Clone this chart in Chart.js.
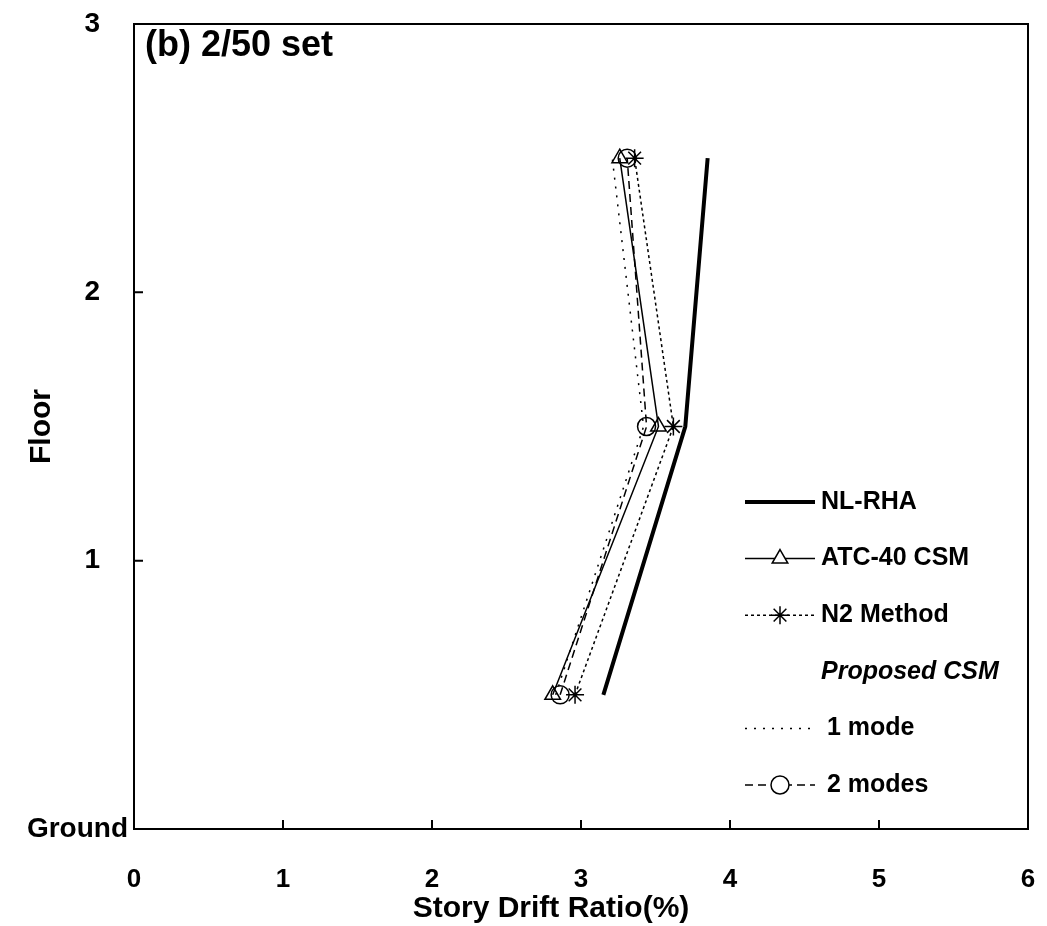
<!DOCTYPE html>
<html>
<head>
<meta charset="utf-8">
<script src="https://cdn.jsdelivr.net/npm/chart.js@4/dist/chart.umd.min.js"></script>
<style>
  html,body{margin:0;padding:0;background:#fff}
  canvas{display:block}
</style>
</head>
<body>
<canvas id="drift" width="1047" height="926"></canvas>
<script>
'use strict';
/* Story drift ratio per floor, (b) 2/50 set */
const floors = [0.5, 1.5, 2.5];
const nlRha  = [3.15, 3.70, 3.85];
const atc40  = [2.81, 3.52, 3.26];
const n2     = [2.96, 3.62, 3.36];
const mode1  = [2.83, 3.42, 3.21];
const mode2  = [2.86, 3.44, 3.31];
const xTicks = [0, 1, 2, 3, 4, 5, 6];
const yTicks = [0, 1, 2, 3];
const yTickLabels = ['Ground', '1', '2', '3'];
const legendNames = ['NL-RHA', 'ATC-40 CSM', 'N2 Method', 'Proposed CSM', '1 mode', '2 modes'];
const panelTitle = '(b) 2/50 set';

const FONT = '"Liberation Sans", Arial, sans-serif';
const pts = vals => vals.map((v, i) => ({x: v, y: floors[i]}));
const clear = 'rgba(0,0,0,0)';

const datasets = [
  {label: legendNames[0], data: pts(nlRha), borderColor: '#000', borderWidth: 4, pointRadius: 0},
  {label: legendNames[1], data: pts(atc40), borderColor: '#000', borderWidth: 1.5,
   pointStyle: 'triangle', pointRadius: 9, pointBorderWidth: 1.5, pointBorderColor: '#000', pointBackgroundColor: clear},
  {label: legendNames[2], data: pts(n2), borderColor: '#000', borderWidth: 1.5, borderDash: [3, 3],
   pointStyle: 'star', pointRadius: 9, pointBorderWidth: 1.5, pointBorderColor: '#000', pointBackgroundColor: clear},
  {label: legendNames[4], data: pts(mode1), borderColor: '#000', borderWidth: 1.5, borderDash: [2, 7], pointRadius: 0},
  {label: legendNames[5], data: pts(mode2), borderColor: '#000', borderWidth: 1.5, borderDash: [8, 5],
   pointStyle: 'circle', pointRadius: 9, pointBorderWidth: 1.5, pointBorderColor: '#000', pointBackgroundColor: clear}
];

// legend rows: which dataset each row samples (-1 = heading only)
const legendRows = [0, 1, 2, -1, 3, 4];

const framePlugin = {
  id: 'frame',
  afterDraw(chart){
    const {ctx, chartArea: a, scales: {x, y}} = chart;
    ctx.save();
    ctx.strokeStyle = '#000';
    ctx.lineWidth = 2;
    ctx.setLineDash([]);
    ctx.strokeRect(a.left, a.top, a.right - a.left, a.bottom - a.top);
    ctx.beginPath();
    xTicks.slice(1, -1).forEach(v => { const px = x.getPixelForValue(v); ctx.moveTo(px, a.bottom); ctx.lineTo(px, a.bottom - 9); });
    yTicks.slice(1, -1).forEach(v => { const py = y.getPixelForValue(v); ctx.moveTo(a.left, py); ctx.lineTo(a.left + 9, py); });
    ctx.stroke();

    // panel title
    ctx.fillStyle = '#000';
    ctx.textBaseline = 'middle';
    ctx.textAlign = 'left';
    ctx.font = 'bold 36px ' + FONT;
    ctx.fillText(panelTitle, a.left + 11, a.top + 22);

    // legend inside plot
    const lx0 = 745, lx1 = 815, tx = 821;
    legendRows.forEach((di, i) => {
      const ly = 502 + i * 56.6;
      const name = legendNames[i];
      if (di < 0){
        ctx.font = 'italic bold 25px ' + FONT;
        ctx.fillText(name, tx, ly);
        return;
      }
      const ds = datasets[di];
      ctx.save();
      ctx.strokeStyle = '#000';
      ctx.lineWidth = ds.borderWidth;
      ctx.setLineDash(ds.borderDash || []);
      ctx.beginPath(); ctx.moveTo(lx0, ly); ctx.lineTo(lx1, ly); ctx.stroke();
      ctx.setLineDash([]);
      if (ds.pointRadius > 0){
        ctx.fillStyle = '#fff';
        ctx.lineWidth = ds.pointBorderWidth;
        const opts = {pointStyle: ds.pointStyle, radius: ds.pointRadius, rotation: 0, borderWidth: ds.pointBorderWidth};
        if (Chart.helpers && Chart.helpers.drawPoint) Chart.helpers.drawPoint(ctx, opts, (lx0 + lx1) / 2, ly);
      }
      ctx.restore();
      ctx.fillStyle = '#000';
      ctx.font = 'bold 25px ' + FONT;
      ctx.fillText(name, di >= 3 ? tx + 6 : tx, ly);
    });
    ctx.restore();
  }
};

new Chart(document.getElementById('drift'), {
  type: 'scatter',
  data: {datasets: datasets.map(d => ({...d, showLine: true, fill: false, tension: 0}))},
  options: {
    responsive: false,
    animation: false,
    layout: {padding: {top: 24, right: 19, left: 0, bottom: 0}},
    plugins: {legend: {display: false}, tooltip: {enabled: false}},
    scales: {
      x: {
        type: 'linear', min: 0, max: 6,
        afterBuildTicks: s => { s.ticks = xTicks.map(v => ({value: v})); },
        afterFit: s => { s.height = 97; s.paddingLeft = 0; s.paddingRight = 0; },
        grid: {display: false, drawTicks: false},
        border: {display: false},
        ticks: {color: '#000', padding: 35, maxRotation: 0, font: {family: FONT, size: 26, weight: 'bold'}},
        // trailing em spaces nudge the centred title left, as in the scan
        title: {display: true, text: 'Story Drift Ratio(%)\u2003\u2003', color: '#000', padding: {top: 0, bottom: -1},
                font: {family: FONT, size: 30, weight: 'bold'}}
      },
      y: {
        type: 'linear', min: 0, max: 3,
        afterBuildTicks: s => { s.ticks = yTicks.map(v => ({value: v})); },
        afterFit: s => { s.width = 134; s.paddingTop = 0; s.paddingBottom = 0; },
        grid: {display: false, drawTicks: false},
        border: {display: false},
        ticks: {color: '#000', padding: 6, font: {family: FONT, size: 28, weight: 'bold'},
                callback: v => { const i = yTicks.indexOf(v); return i === 0 ? yTickLabels[0] : yTickLabels[i] + '\u2003'; }},
        title: {display: true, text: 'Floor', color: '#000', padding: {top: 24, bottom: 0},
                font: {family: FONT, size: 30, weight: 'bold'}}
      }
    }
  },
  plugins: [framePlugin]
});
</script>
</body>
</html>
